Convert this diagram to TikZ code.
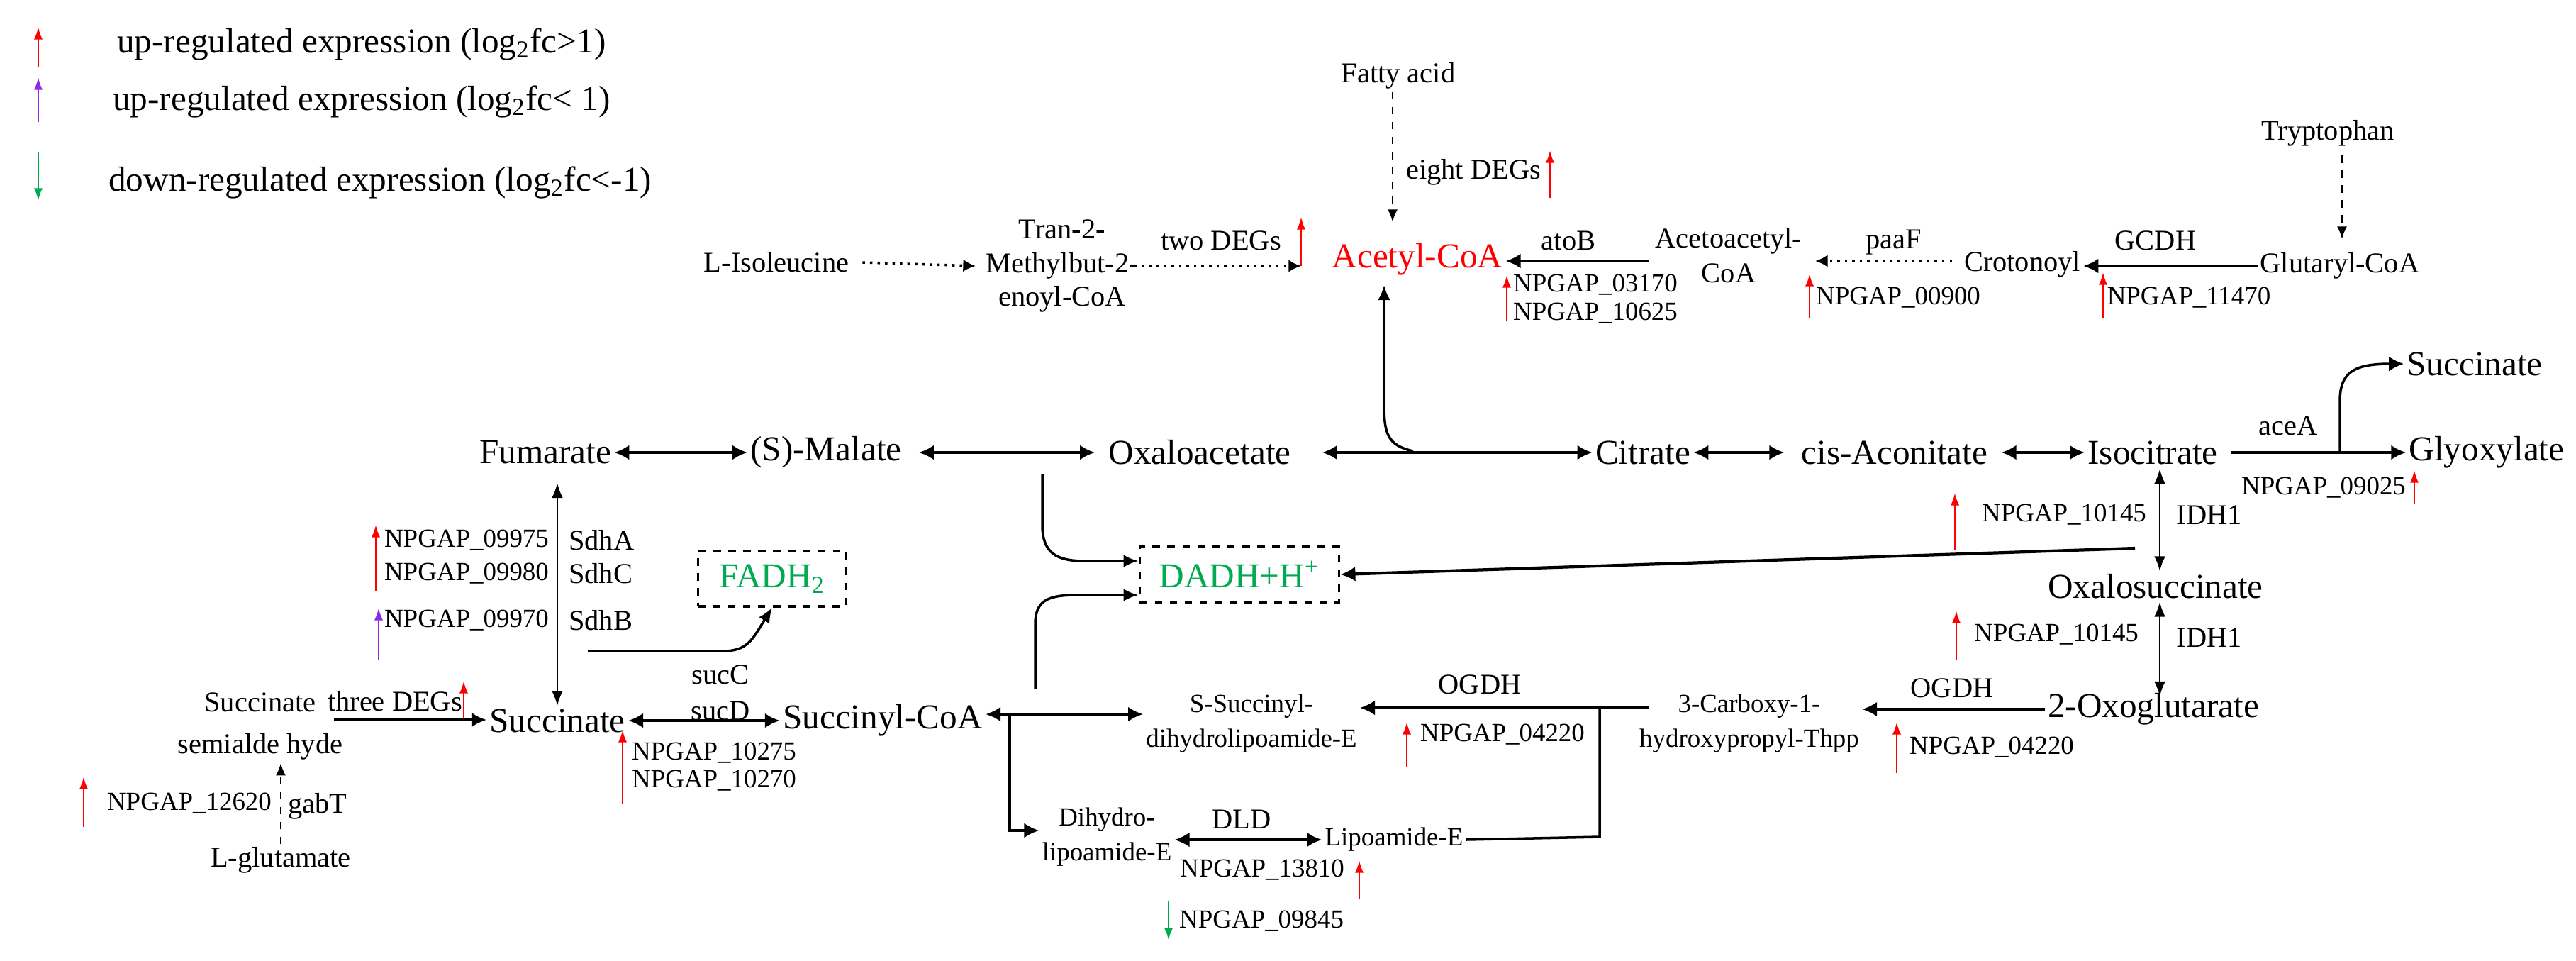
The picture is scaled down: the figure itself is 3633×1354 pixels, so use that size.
\documentclass[tikz,border=0pt]{standalone}
\usepackage{fontspec}
\setmainfont{Liberation Serif}
\usetikzlibrary{arrows.meta}
\definecolor{upred}{RGB}{255,0,0}
\definecolor{uppur}{RGB}{140,40,230}
\definecolor{dngrn}{RGB}{0,170,80}
\begin{document}
\begin{tikzpicture}[x=0.01cm,y=-0.01cm,
 big/.style={font=\fontsize{14}{16}\selectfont,inner sep=1pt},
 mid/.style={font=\fontsize{11.5}{14}\selectfont,inner sep=1pt,align=center},
 sm/.style={font=\fontsize{10.5}{14}\selectfont,inner sep=1pt,align=center},
 conv/.style={line width=1.2pt,-{Latex[length=6pt,width=6pt]}},
 both/.style={line width=1.2pt,{Latex[length=6pt,width=6pt]}-{Latex[length=6pt,width=6pt]}},
 thinboth/.style={line width=0.7pt,{Latex[length=6pt,width=4.5pt]}-{Latex[length=6pt,width=4.5pt]}},
 dotarr/.style={line width=1pt,dotted,-{Latex[length=5pt,width=5pt]}},
 dasharr/.style={line width=0.7pt,dashed,-{Latex[length=5pt,width=4pt]}},
 up/.style={upred,line width=0.8pt,-{Latex[length=5pt,width=3.5pt]}},
 box/.style={draw,dashed,line width=1pt,minimum height=0.78cm,font=\fontsize{14}{16}\selectfont,text=dngrn}]
\useasboundingbox (0,0) rectangle (3633,1354);
% legend
\draw[up] (54,94) -- (54,38);
\draw[up,uppur] (54,172) -- (54,109);
\draw[up,dngrn] (54,214) -- (54,283);
\node[big,anchor=west] (l1) at (161,62) {up-regulated expression (log\textsubscript{2}fc>1)};
\node[big,anchor=west] (l2) at (155,143) {up-regulated expression (log\textsubscript{2}fc< 1)};
\node[big,anchor=west] (l3) at (149,257) {down-regulated expression (log\textsubscript{2}fc<-1)};
% top row
\node[mid] (ile) at (1095,370) {L-Isoleucine};
\node[mid,font=\fontsize{11.5}{13.5}\selectfont] (tran) at (1498,375) {Tran-2-\\Methylbut-2-\\enoyl-CoA};
\coordinate (tranend) at (1835,375);
\draw[dotarr] ([xshift=0.15cm]ile.east) -- ([xshift=-0.1cm]tran.west);
\draw[dotarr] (tran.east) -- (tranend);
\node[mid] (two) at (1722,339) {two DEGs};
\draw[up] (1835,375) -- (1835,306);
\node[big,text=upred] (acetyl) at (1999,366) {Acetyl-CoA};
\node[mid] (fatty) at (1972,107) {Fatty acid};
\coordinate (faend) at (1964,313);
\draw[dasharr] (fatty.south -| faend) -- (faend);
\node[mid] (eight) at (2078,243) {eight DEGs};
\draw[up] (2186,279) -- (2186,212);
\node[mid] (atob) at (2212,339) {atoB};
\node[mid] (aceto) at (2438,360) {Acetoacetyl-\\CoA};
\coordinate (acs) at (2326,368);
\draw[conv] (acs) -- (acetyl.east |- acs);
\draw[up] (2125,453) -- (2125,388);
\node[sm] (n1) at (2250,402) {NPGAP\_03170};
\node[sm] (n2) at (2250,442) {NPGAP\_10625};
\node[mid] (paaf) at (2671,342) {paaF};
\node[mid] (croton) at (2852,373) {Crotonoyl};
\coordinate (paae) at (2560,368);
\draw[dotarr] (2753,368) -- (paae);
\draw[up] (2552,449) -- (2552,386);
\node[sm] (n3) at (2677,420) {NPGAP\_00900};
\node[mid] (gcdh) at (3040,339) {GCDH};
\node[mid] (glut) at (3300,375) {Glutaryl-CoA};
\draw[conv] (glut.west) -- (croton.east |- glut.west);
\node[mid] (tryp) at (3283,188) {Tryptophan};
\coordinate (tre) at (3303,337);
\draw[dasharr] (3303,219) -- (tre);
\draw[up] (2966,449) -- (2966,384);
\node[sm] (n4) at (3087,420) {NPGAP\_11470};
% main row
\node[big] (fum) at (769,638) {Fumarate};
\node[big] (mal) at (1165,638) {(S)-Malate};
\node[big] (oxa) at (1692,638) {Oxaloacetate};
\node[big] (cit) at (2317,638) {Citrate};
\node[big] (cis) at (2672,638) {cis-Aconitate};
\node[big] (iso) at (3036,638) {Isocitrate};
\node[big] (gly) at (3507,638) {Glyoxylate};
\node[big] (suc2) at (3490,513) {Succinate};
\draw[both] (fum.east) -- (mal.west);
\draw[both] ([xshift=0.2cm]mal.east) -- ([xshift=-0.15cm]oxa.west);
\draw[both] ([xshift=0.4cm]oxa.east) -- (cit.west);
\draw[both] (cit.east) -- ([xshift=-0.2cm]cis.west);
\draw[both] ([xshift=0.15cm]cis.east) -- (iso.west);
\draw[conv] ([xshift=0.15cm]iso.east) -- (gly.west);
\coordinate (acin) at (1952,402);
\draw[line width=1pt,-{Latex[length=6pt,width=5pt]}] (1993,636) .. controls (1956,628) and (1952,610) .. (1952,570) -- (acin);
\draw[line width=1pt,-{Latex[length=6pt,width=6pt]}] (3300,636) -- (3300,565) .. controls (3300,525) and (3320,513) .. (suc2.west);
\node[mid] (acea) at (3227,600) {aceA};
\node[sm] (n5) at (3277,688) {NPGAP\_09025};
\draw[up] (3405,710) -- (3405,663);
% succinate region
\node[big] (succ) at (786,1016) {Succinate};
\draw[thinboth] (786,681) -- (succ.north);
\draw[up] (530,834) -- (530,740);
\draw[up,uppur] (534,931) -- (534,857);
\node[sm] (n6) at (658,762) {NPGAP\_09975};
\node[sm] (n7) at (658,809) {NPGAP\_09980};
\node[sm] (n8) at (658,875) {NPGAP\_09970};
\node[mid,anchor=west] (sa) at (798,762) {SdhA};
\node[mid,anchor=west] (sc) at (798,809) {SdhC};
\node[mid,anchor=west] (sb) at (798,875) {SdhB};
\node[box,minimum width=2.09cm] (fadh) at (1089,816) {FADH\textsubscript{2}};
\draw[line width=1pt,-{Latex[length=6pt,width=5pt]}] (829,918) -- (1020,918) .. controls (1055,918) and (1062,900) .. (fadh.south);
\node[mid] (succ1) at (1016,951) {sucC};
\node[mid] (sucd) at (1016,1002) {sucD};
\node[mid] (semi) at (367,1024) {Succinate\\[3pt]semialde hyde};
\node[mid] (three) at (557,989) {three DEGs};
\draw[up] (654,1014) -- (654,960);
\coordinate (semie) at (471,1015);
\draw[conv] (semie) -- (succ.west |- semie);
\node[big] (scoa) at (1245,1016) {Succinyl-CoA};
\draw[both] (succ.east) -- (scoa.west);
\draw[up] (878,1133) -- (878,1029);
\node[sm] (n9) at (1007,1062) {NPGAP\_10275};
\node[sm] (n10) at (1007,1101) {NPGAP\_10270};
\node[mid] (glu) at (396,1213) {L-glutamate};
\draw[dasharr] (glu.north) -- (semi.south -| glu.north);
\node[mid] (gabt) at (448,1137) {gabT};
\node[sm] (n11) at (267,1133) {NPGAP\_12620};
\draw[up] (118,1166) -- (118,1095);
% lipoamide cycle
\node[sm] (ssuc) at (1765,1020) {S-Succinyl-\\dihydrolipoamide-E};
\draw[both] (scoa.east |- 0,1007) -- (ssuc.west |- 0,1007);
\node[sm] (dih) at (1561,1180) {Dihydro-\\lipoamide-E};
\draw[conv] (1424,1007) -- (1424,1171) -- (dih.west |- 0,1171);
\node[mid] (dld) at (1751,1155) {DLD};
\node[sm] (lipo) at (1966,1184) {Lipoamide-E};
\draw[both] (dih.east |- lipo.west) -- (lipo.west);
\node[sm] (n12) at (1780,1227) {NPGAP\_13810};
\draw[up] (1917,1267) -- (1917,1213);
\draw[up,dngrn] (1648,1270) -- (1648,1326);
\node[sm,anchor=west] (n13) at (1659,1299) {NPGAP\_09845};
\node[sm] (carb) at (2467,1020) {3-Carboxy-1-\\hydroxypropyl-Thpp};
\draw[conv] (2326,998) -- (ssuc.east |- 0,998);
\node[mid] (ogdh1) at (2087,965) {OGDH};
\draw[up] (1984,1081) -- (1984,1018);
\node[sm] (n14) at (2119,1036) {NPGAP\_04220};
\draw[line width=1pt] (lipo.east) -- (2256,1180) -- (2256,998);
\node[big] (oxo) at (3037,1000) {2-Oxoglutarate};
\node[big] (oxs) at (3040,827) {Oxalosuccinate};
\draw[conv] (oxo.west) -- (carb.east |- oxo.west);
\node[mid] (ogdh2) at (2753,970) {OGDH};
\draw[up] (2675,1090) -- (2675,1018);
\node[sm] (n15) at (2809,1054) {NPGAP\_04220};
\draw[thinboth] (3046,661) -- (oxs.north -| 3046,0);
\draw[thinboth] (oxs.south -| 3046,0) -- (3046,982);
\draw[up] (2757,776) -- (2757,695);
\node[sm] (n16) at (2911,726) {NPGAP\_10145};
\node[mid] (idh1) at (3116,726) {IDH1};
\draw[up] (2759,931) -- (2759,861);
\node[sm] (n17) at (2900,895) {NPGAP\_10145};
\node[mid] (idh2) at (3116,899) {IDH1};
\node[box,minimum width=2.81cm] (dadh) at (1748,810) {DADH+H\textsuperscript{+}};
\draw[conv] (3011,773) -- (dadh.east);
\draw[line width=1pt,-{Latex[length=6pt,width=5pt]}] (1470,668) -- (1470,740) .. controls (1470,780) and (1490,791) .. (1530,791) -- (dadh.west |- 0,791);
\draw[line width=1pt,-{Latex[length=6pt,width=5pt]}] (1460,971) -- (1460,880) .. controls (1460,845) and (1480,839) .. (1520,839) -- (dadh.west |- 0,839);
\end{tikzpicture}
\end{document}
